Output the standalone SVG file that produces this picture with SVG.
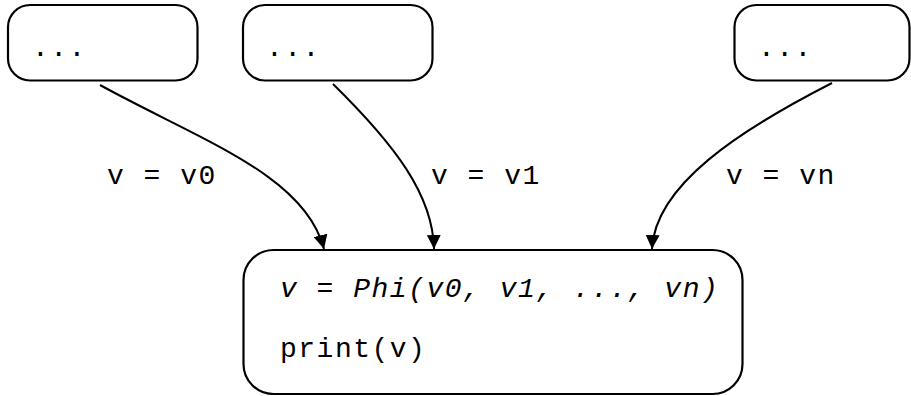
<svg xmlns="http://www.w3.org/2000/svg" width="911" height="396" viewBox="0 0 911 396">
<style>
.box{fill:#fff;stroke:#000;stroke-width:2.2}
.t{font-family:"Liberation Mono","Courier New",monospace;font-size:28px;letter-spacing:1.5px;fill:#000}
.i{font-style:italic}
.e{fill:none;stroke:#000;stroke-width:2}
</style>
<defs>
<marker id="ah" viewBox="0 0 14 14" refX="14" refY="7" markerWidth="14" markerHeight="14" markerUnits="userSpaceOnUse" orient="auto">
<path d="M0,0 L14,7 L0,14 Z" fill="#000"/>
</marker>
</defs>
<rect width="911" height="396" fill="#fff"/>
<g id="edges">
<path class="e" d="M100,85 C200,140 305,175 324,249" marker-end="url(#ah)"/>
<path class="e" d="M333,84 C395,145 433,195 434,249" marker-end="url(#ah)"/>
<path class="e" d="M832,83 C740,130 655,185 652,249" marker-end="url(#ah)"/>
<text class="t" x="107" y="184">v = v0</text>
<text class="t" x="431" y="184">v = v1</text>
<text class="t" x="726" y="184">v = vn</text>
</g>
<g id="n1">
<rect class="box" x="8" y="5" width="189.5" height="75.5" rx="22"/>
<text class="t" x="32" y="56">...</text>
</g>
<g id="n2">
<rect class="box" x="243" y="5" width="189.5" height="75.5" rx="22"/>
<text class="t" x="266" y="56">...</text>
</g>
<g id="n3">
<rect class="box" x="734.5" y="5" width="175" height="75.5" rx="22"/>
<text class="t" x="758" y="56">...</text>
</g>
<g id="phi">
<rect class="box" x="243.5" y="250" width="499" height="144" rx="30"/>
<text class="t i" x="280" y="297">v = Phi(v0, v1, ..., vn)</text>
<text class="t" x="280" y="357">print(v)</text>
</g>
</svg>
